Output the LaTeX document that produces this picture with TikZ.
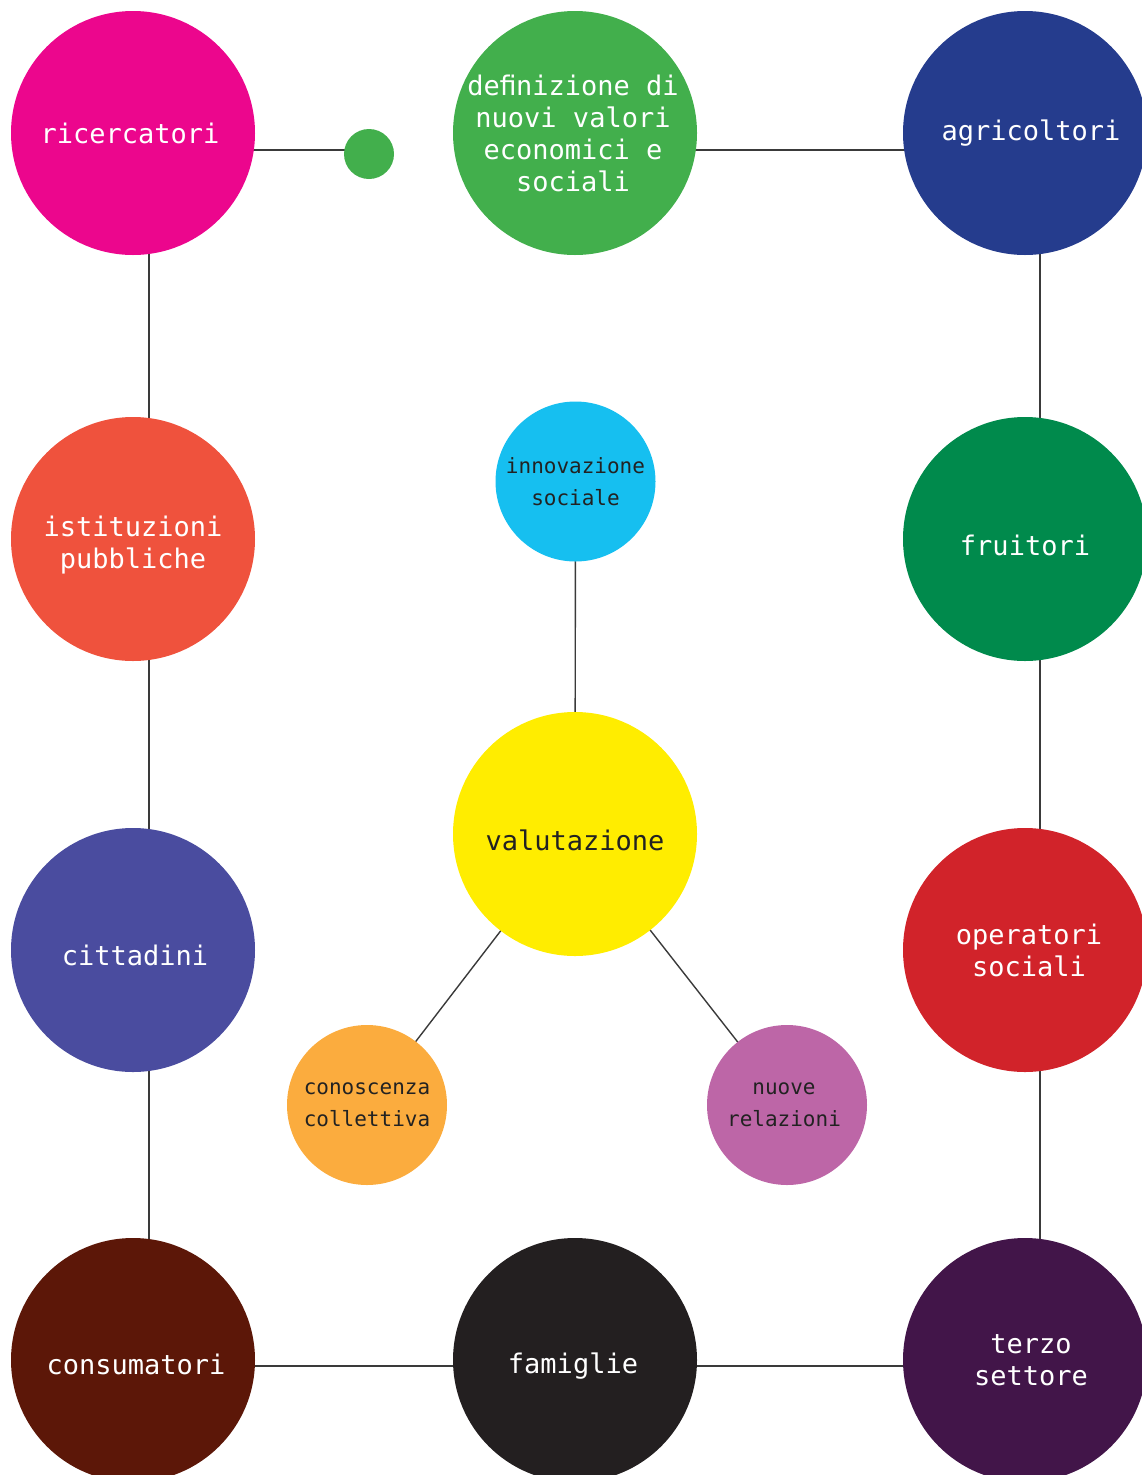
\documentclass[tikz,border=0pt]{standalone}
\usepackage{fontspec}
\setmonofont{DejaVu Sans Mono}
\usetikzlibrary{backgrounds}

\definecolor{cRic}{HTML}{EC068D}
\definecolor{cDef}{HTML}{42AF4C}
\definecolor{cAgr}{HTML}{253C8D}
\definecolor{cIst}{HTML}{EF523D}
\definecolor{cInn}{HTML}{16BFF0}
\definecolor{cFru}{HTML}{008A4C}
\definecolor{cVal}{HTML}{FFED00}
\definecolor{cCit}{HTML}{4A4C9F}
\definecolor{cOpe}{HTML}{D1232A}
\definecolor{cCon}{HTML}{FBAC3E}
\definecolor{cNuo}{HTML}{BD66A7}
\definecolor{cCns}{HTML}{5C1708}
\definecolor{cFam}{HTML}{231F20}
\definecolor{cTer}{HTML}{421549}
\definecolor{txtdark}{HTML}{222222}
\definecolor{linkgray}{HTML}{3A3A3A}

\tikzset{
  big/.style={circle, fill=#1, draw=none, inner sep=0pt, minimum size=244pt},
  bigtxt/.style={text=white, align=center, inner sep=0pt,
    font=\ttfamily\fontsize{27}{32}\selectfont},
  % text on a big circle, moved right by #1 pt and down by #2 pt
  ctxt/.style n args={3}{label={[bigtxt,xshift=#1pt,yshift=-#2pt]center:{#3}}},
  small/.style={circle, fill=#1, draw=none, inner sep=0pt, minimum size=160pt,
    text=txtdark, align=center, font=\ttfamily\fontsize{21}{32}\selectfont},
  link/.style={draw=linkgray, line width=1.4pt},
}

\begin{document}
\begin{tikzpicture}[x=1pt, y=-1pt]
\useasboundingbox (0,0) rectangle (1142,1475);

% outer ring of actors
\node[big=cRic, ctxt={-3}{0}{ricercatori}] (ric) at (133,133) {};
\node[big=cDef, ctxt={-2}{0}{deﬁnizione di\\nuovi valori\\economici e\\sociali}] (def) at (575,133) {};
\node[big=cAgr, ctxt={6}{0}{agricoltori}] (agr) at (1025,133) {};
\node[big=cIst, ctxt={0}{6}{istituzioni\\pubbliche}] (ist) at (133,539) {};
\node[big=cFru, ctxt={0}{6}{fruitori}] (fru) at (1025,539) {};
\node[big=cCit, ctxt={2}{5}{cittadini}] (cit) at (133,950) {};
\node[big=cOpe, ctxt={4}{0}{operatori\\sociali}] (ope) at (1025,950) {};
\node[big=cCns, ctxt={3}{4}{consumatori}] (cns) at (133,1360) {};
\node[big=cFam, ctxt={-2}{6}{famiglie}] (fam) at (575,1360) {};
\node[big=cTer, ctxt={6}{0}{terzo\\settore}] (ter) at (1025,1360) {};

% small green dot beside ricercatori
\node[circle, fill=cDef, inner sep=0pt, minimum size=50pt] (dot) at (369,154) {};

% centre group
\node[big=cVal, label={[bigtxt,text=txtdark,yshift=-6pt]center:valutazione}] (val) at (575,834) {};
\node[small=cInn] (inn) at (575.5,481.5) {innovazione\\sociale};
\node[small=cCon] (con) at (367,1105) {conoscenza\\collettiva};
\node[small=cNuo, text width=140pt, xshift=0pt] (nuo) at (787,1105) {\hspace*{-6pt}nuove\\\hspace*{-6pt}relazioni};

\begin{pgfonlayer}{background}
  % top row
  \draw[link] ([yshift=-17pt]ric.center) -- ([yshift=-17pt]ric.center -| dot.center);
  \draw[link] ([yshift=-17pt]def.center) -- ([yshift=-17pt]agr.center);
  % left column
  \draw[link] ([xshift=16pt]ric.center) -- ([xshift=16pt]ist.center);
  \draw[link] ([xshift=16pt]ist.center) -- ([xshift=16pt]cit.center);
  \draw[link] ([xshift=16pt]cit.center) -- ([xshift=16pt]cns.center);
  % right column
  \draw[link] ([xshift=15pt]agr.center) -- ([xshift=15pt]fru.center);
  \draw[link] ([xshift=15pt]fru.center) -- ([xshift=15pt]ope.center);
  \draw[link] ([xshift=15pt]ope.center) -- ([xshift=15pt]ter.center);
  % bottom row
  \draw[link] ([yshift=-6pt]cns.center) -- ([yshift=-6pt]fam.center);
  \draw[link] ([yshift=-6pt]fam.center) -- ([yshift=-6pt]ter.center);
  % centre spokes
  \draw[link] (inn.center) -- (val.center);
  \draw[link] (val.center) -- (con.center);
  \draw[link] (val.center) -- (nuo.center);
\end{pgfonlayer}
\end{tikzpicture}
\end{document}
